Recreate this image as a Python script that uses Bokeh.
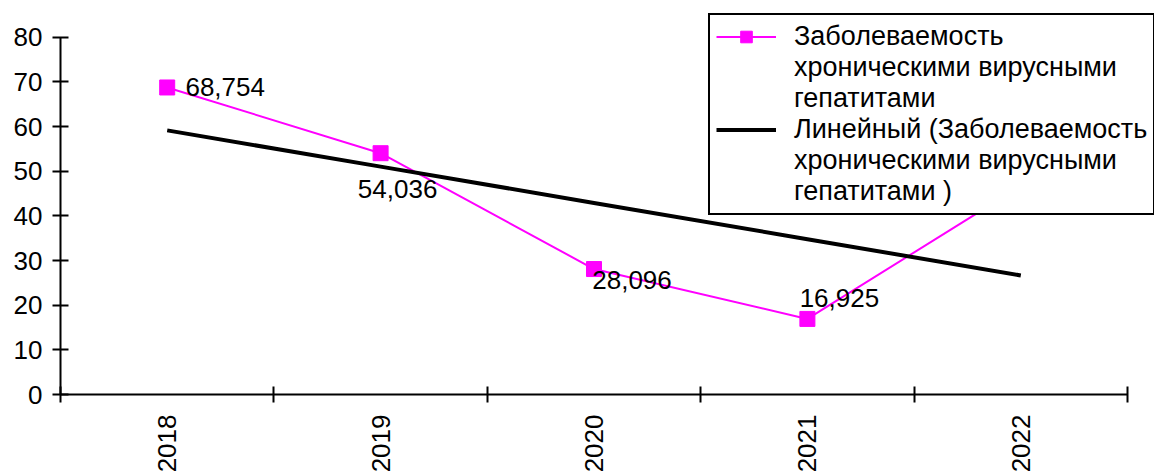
import math
import numpy as np
from bokeh.plotting import figure
from bokeh.models import (FixedTicker, Legend, LegendItem, ColumnDataSource,
                          LabelSet, Range1d)
from bokeh.core.properties import value
from bokeh.embed import file_html
from bokeh.resources import INLINE

# ---- data ----
years = [2018, 2019, 2020, 2021, 2022]
year_labels = ["2018", "2019", "2020", "2021", "2022"]
values = [68.754, 54.036, 28.096, 16.925, 46.7]
value_labels = ["68,754", "54,036", "28,096", "16,925", "46,7"]
series_lines = ["Заболеваемость", "хроническими вирусными", "гепатитами"]
trend_lines = ["Линейный (Заболеваемость", "хроническими вирусными", "гепатитами )"]

# label placement (screen px offsets, style only)
label_dx = [58, 17, 38, 32, 40]
label_dy = [0, -36, -11, 21, 0]

# linear trend computed from the series
slope, intercept = np.polyfit(years, values, 1)
trend = [slope * x + intercept for x in years]

FONT = "Liberation Sans"
FS = "26px"

# plot area extends past the axes so the legend box (which overhangs) is not clipped
X_END = 2017.5 + 1094 / 213.4
Y_END = 80 + 32 / 4.5

p = figure(width=1154, height=475, output_backend="svg", toolbar_location=None,
           x_range=Range1d(2017.5, X_END), y_range=Range1d(0, Y_END),
           min_border_left=60, min_border_right=0, min_border_top=5,
           min_border_bottom=78)
p.outline_line_color = None
p.xgrid.visible = False
p.ygrid.visible = False
p.background_fill_color = "white"
p.border_fill_color = "white"

r_line = p.line(years, values, line_color="#FF00FF", line_width=2)
r_mark = p.scatter(years, values, marker="square", size=15,
                   fill_color="#FF00FF", line_color="#FF00FF")
r_trend = p.line(years, trend, line_color="black", line_width=4)
r_blank = p.line(x=[], y=[], line_alpha=0)

src = ColumnDataSource(dict(x=years, y=values, t=value_labels,
                            dx=label_dx, dy=label_dy))
labels = LabelSet(x="x", y="y", text="t", source=src, x_offset="dx", y_offset="dy",
                  text_align="center", text_baseline="middle",
                  text_font=value(FONT), text_font_size=FS, text_color="black")
p.add_layout(labels)

# axes
xa = p.xaxis[0]
xa.bounds = (2017.5, 2022.5)
xa.ticker = FixedTicker(ticks=years, minor_ticks=[2017.5 + i for i in range(6)])
xa.major_label_overrides = {y: l for y, l in zip(years, year_labels)}
xa.major_tick_line_color = None
xa.major_tick_out = 8
xa.major_tick_in = 0
xa.minor_tick_line_color = "black"
xa.minor_tick_line_width = 2
xa.minor_tick_out = 8
xa.minor_tick_in = 8
xa.axis_line_width = 2
xa.axis_line_color = "black"
xa.major_label_orientation = math.pi / 2
xa.major_label_standoff = 12
xa.major_label_text_font = FONT
xa.major_label_text_font_size = FS
xa.major_label_text_color = "black"

ya = p.yaxis[0]
ya.bounds = (0, 80)
ya.ticker = FixedTicker(ticks=list(range(0, 81, 10)), minor_ticks=[])
ya.major_tick_line_color = "black"
ya.major_tick_line_width = 2
ya.major_tick_out = 8
ya.major_tick_in = 8
ya.minor_tick_line_color = None
ya.axis_line_width = 2
ya.axis_line_color = "black"
ya.major_label_standoff = 10
ya.major_label_text_font = FONT
ya.major_label_text_font_size = FS
ya.major_label_text_color = "black"

items = [LegendItem(label=series_lines[0], renderers=[r_line, r_mark])]
items += [LegendItem(label=t, renderers=[r_blank]) for t in series_lines[1:]]
items += [LegendItem(label=trend_lines[0], renderers=[r_trend])]
items += [LegendItem(label=t, renderers=[r_blank]) for t in trend_lines[1:]]

legend = Legend(items=items, location=(648, 179), orientation="vertical")
legend.border_line_color = "black"
legend.border_line_alpha = 1
legend.border_line_width = 2
legend.background_fill_color = "white"
legend.background_fill_alpha = 1
legend.label_text_font = FONT
legend.label_text_font_size = "27px"
legend.label_text_color = "black"
legend.label_height = 29
legend.glyph_width = 60
legend.glyph_height = 29
legend.label_standoff = 18
legend.padding = 6
legend.spacing = 0
legend.margin = 0
p.add_layout(legend)

open("out.html", "w").write(file_html(p, INLINE))
